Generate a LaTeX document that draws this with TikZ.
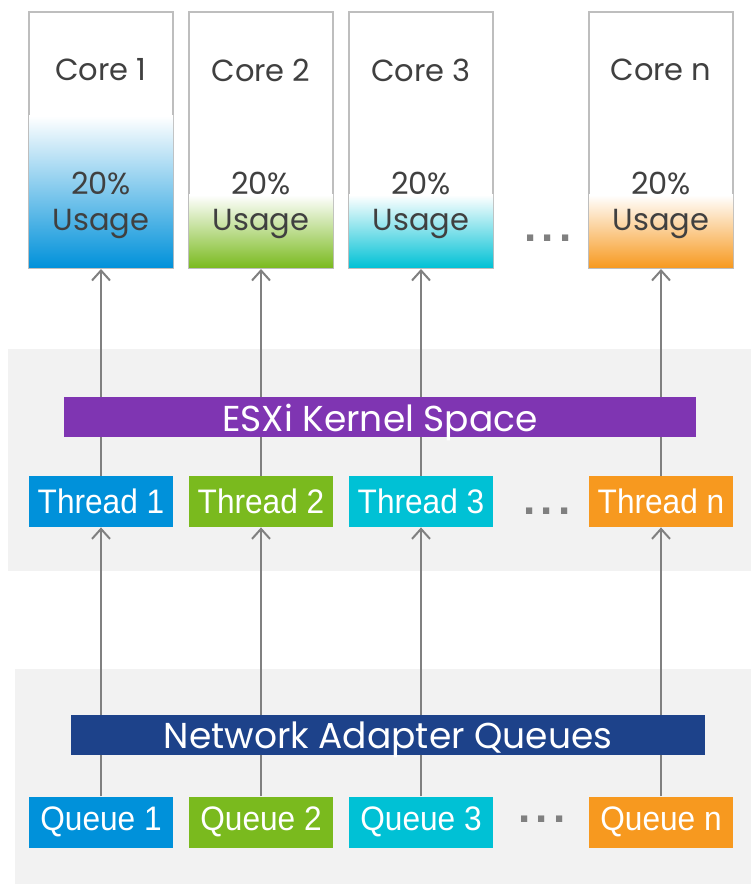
\documentclass[tikz,border=0pt]{standalone}
\usepackage{fontspec}
\usepackage{xcolor}
\usepackage{tikz}
\usetikzlibrary{arrows.meta, positioning, backgrounds}
\newfontfamily\geofont{Poppins}
\newfontfamily\narrowfont{Liberation Sans}[FakeStretch=0.93]
\newfontfamily\dotfont{Liberation Sans}
\definecolor{coreframe}{RGB}{190,190,190}
\definecolor{textgray}{RGB}{64,64,64}
\definecolor{arrowgray}{RGB}{128,128,128}
\definecolor{panelgray}{RGB}{242,242,242}
\definecolor{coreblue}{RGB}{0,145,218}
\definecolor{coregreen}{RGB}{122,186,30}
\definecolor{corecyan}{RGB}{0,193,213}
\definecolor{coreorange}{RGB}{247,153,31}
\definecolor{esxipurple}{RGB}{127,53,178}
\definecolor{nicnavy}{RGB}{29,66,138}
\tikzset{
  core/.style={rectangle, draw=coreframe, line width=2pt,
               minimum width=144pt, minimum height=256pt, inner sep=0pt},
  tag/.style={rectangle, minimum width=144pt, minimum height=51pt,
              inner sep=0pt, text=white,
              font=\narrowfont\fontsize{34}{36}\selectfont},
  bar/.style={rectangle, minimum height=40pt, inner sep=0pt, text=white,
              text depth=0pt, font=\geofont\fontsize{36}{36}\selectfont},
  lbl/.style={inner sep=0pt, text=textgray, align=center,
              font=\geofont\fontsize{30.5}{36}\selectfont},
  dots/.style={inner sep=0pt, text=arrowgray, anchor=base,
               font=\dotfont\bfseries\fontsize{44}{44}\selectfont},
  arr/.style={-{Straight Barb[length=10pt,width=18pt]}, line width=2pt,
              color=arrowgray},
  panel/.style={fill=panelgray}
}

\begin{document}
\begin{tikzpicture}[x=1pt, y=1pt]

  % canvas and grey panels
  \fill[white] (0,0) rectangle (751,884);
  \fill[panel] (8,313) rectangle (751,535);
  \fill[panel] (15,0) rectangle (751,215);

  % cores
  \node[core] (core1) at (101,744) {};
  \node[core, right=14pt of core1] (core2) {};
  \node[core, right=14pt of core2] (core3) {};
  \node[core, right=94pt of core3] (coren) {};

  % usage gradients
  \shade[top color=white, bottom color=coreblue]
    ([shift={(1pt,1pt)}]core1.south west) rectangle ([shift={(-1pt,153pt)}]core1.south east);
  \shade[top color=white, bottom color=coregreen]
    ([shift={(1pt,1pt)}]core2.south west) rectangle ([shift={(-1pt,74pt)}]core2.south east);
  \shade[top color=white, bottom color=corecyan]
    ([shift={(1pt,1pt)}]core3.south west) rectangle ([shift={(-1pt,74pt)}]core3.south east);
  \shade[top color=white, bottom color=coreorange]
    ([shift={(1pt,1pt)}]coren.south west) rectangle ([shift={(-1pt,74pt)}]coren.south east);

  % core labels
  \node[lbl] (core1name) at ([yshift=-59pt]core1.north) {Core 1};
  \node[lbl] (core2name) at ([yshift=-59pt]core2.north) {Core 2};
  \node[lbl] (core3name) at ([yshift=-59pt]core3.north) {Core 3};
  \node[lbl] (corenname) at ([yshift=-59pt]coren.north) {Core n};
  \node[lbl] (core1use) at ([yshift=64pt]core1.south) {20\%\\Usage};
  \node[lbl] (core2use) at ([yshift=64pt]core2.south) {20\%\\Usage};
  \node[lbl] (core3use) at ([yshift=64pt]core3.south) {20\%\\Usage};
  \node[lbl] (corenuse) at ([yshift=64pt]coren.south) {20\%\\Usage};

  % threads
  \node[tag, fill=coreblue, below=207pt of core1] (thr1) {Thread 1};
  \node[tag, fill=coregreen, below=207pt of core2] (thr2) {Thread 2};
  \node[tag, fill=corecyan, below=207pt of core3] (thr3) {Thread 3};
  \node[tag, fill=coreorange, below=207pt of coren] (thrn) {Thread n};

  % queues
  \node[tag, fill=coreblue, below=269pt of thr1] (que1) {Queue 1};
  \node[tag, fill=coregreen, below=269pt of thr2] (que2) {Queue 2};
  \node[tag, fill=corecyan, below=269pt of thr3] (que3) {Queue 3};
  \node[tag, fill=coreorange, below=269pt of thrn] (quen) {Queue n};

  % ellipses
  \node[dots] (coredots) at (548,642) {.\kern5pt.\kern5pt.};
  \node[dots] (thrdots) at (547,369) {.\kern5pt.\kern5pt.};
  \node[dots] (quedots) at (542,61) {.\kern5pt.\kern5pt.};

  % arrows
  \draw[arr] (thr1) -- (core1);
  \draw[arr] (thr2) -- (core2);
  \draw[arr] (thr3) -- (core3);
  \draw[arr] (thrn) -- (coren);
  \draw[arr] (que1) -- (thr1);
  \draw[arr] (que2) -- (thr2);
  \draw[arr] (que3) -- (thr3);
  \draw[arr] (quen) -- (thrn);

  % bars across the arrows
  \node[bar, fill=esxipurple, minimum width=632pt] (esxi) at (380,466.5) {ESXi Kernel Space};
  \node[bar, fill=nicnavy, minimum width=634pt] (nicq) at (388,149) {Network Adapter Queues};

\end{tikzpicture}
\end{document}
